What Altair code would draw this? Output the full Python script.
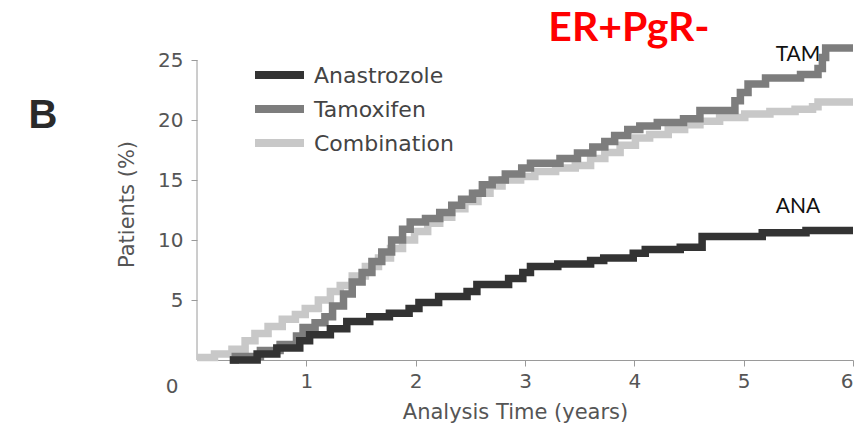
import altair as alt
import pandas as pd

# ---- data ----
series_names = ["Anastrozole", "Tamoxifen", "Combination"]
series_colors = ["#333333", "#7d7d7d", "#c8c8c8"]

ana_t = [0.30, 0.35, 0.55, 0.73, 0.94, 1.03, 1.22, 1.37, 1.58, 1.76, 1.94, 2.03, 2.21, 2.47, 2.56,
         2.85, 2.98, 3.05, 3.30, 3.60, 3.72, 3.99, 4.10, 4.42, 4.62, 5.17, 5.57, 6.00]
ana_v = [0.0, 0.0, 0.5, 1.0, 1.6, 2.1, 2.6, 3.2, 3.6, 3.9, 4.3, 4.8, 5.3, 5.7, 6.3,
         6.8, 7.3, 7.8, 8.0, 8.3, 8.5, 8.9, 9.2, 9.4, 10.3, 10.6, 10.8, 10.8]

tam_t = [0.30, 0.35, 0.58, 0.76, 0.91, 0.97, 1.08, 1.17, 1.24, 1.34, 1.42, 1.51, 1.60, 1.69, 1.78,
         1.88, 1.95, 2.09, 2.22, 2.33, 2.42, 2.52, 2.61, 2.70, 2.82, 2.97, 3.05, 3.32, 3.48, 3.62,
         3.73, 3.82, 3.94, 4.05, 4.21, 4.45, 4.60, 4.92, 4.97, 5.04, 5.20, 5.52, 5.68, 5.72, 5.75, 6.00]
tam_v = [0.0, 0.3, 0.8, 1.3, 2.0, 2.7, 3.1, 3.6, 4.5, 5.5, 6.5, 7.3, 8.2, 9.0, 10.0,
         10.9, 11.5, 11.8, 12.3, 12.9, 13.4, 13.9, 14.6, 15.0, 15.5, 16.0, 16.4, 16.8, 17.25, 17.75,
         18.2, 18.7, 19.2, 19.5, 19.8, 20.1, 20.8, 21.6, 22.3, 23.0, 23.5, 23.8, 24.3, 25.2, 26.0, 26.0]

com_t = [0.00, 0.16, 0.32, 0.44, 0.53, 0.65, 0.78, 0.90, 0.99, 1.11, 1.22, 1.31, 1.42, 1.54, 1.66,
         1.77, 1.88, 1.99, 2.11, 2.22, 2.33, 2.45, 2.57, 2.68, 2.79, 2.96, 3.09, 3.28, 3.46, 3.60,
         3.73, 3.87, 4.01, 4.14, 4.31, 4.46, 4.60, 4.78, 5.01, 5.24, 5.47, 5.63, 5.68, 6.00]
com_v = [0.2, 0.5, 0.9, 1.6, 2.2, 2.8, 3.4, 3.8, 4.3, 5.0, 5.7, 6.2, 7.0, 7.8, 8.5,
         9.3, 10.0, 10.7, 11.4, 11.9, 12.6, 13.2, 13.9, 14.5, 15.0, 15.3, 15.7, 16.0, 16.2, 16.8,
         17.3, 17.9, 18.5, 18.8, 19.2, 19.6, 19.9, 20.2, 20.5, 20.7, 20.9, 21.1, 21.5, 21.5]

x_ticks = [1, 2, 3, 4, 5, 6]
y_ticks = [5, 10, 15, 20, 25]

frames = []
for name, ts, vs in [("Anastrozole", ana_t, ana_v), ("Tamoxifen", tam_t, tam_v), ("Combination", com_t, com_v)]:
    frames.append(pd.DataFrame({"time": ts, "pct": vs, "arm": name}))
df = pd.concat(frames, ignore_index=True)

FONT = "DejaVu Sans"
AXIS_COLOR = "#9a9a9a"
TEXT_COLOR = "#555555"

xscale = alt.Scale(domain=[0, 6], nice=False, zero=True)
yscale = alt.Scale(domain=[0, 27], nice=False)
cscale = alt.Scale(domain=series_names, range=series_colors)

base = alt.Chart(df)

def arm_line(name):
    return base.transform_filter(alt.datum.arm == name).mark_line(
        interpolate="step-after", strokeWidth=7.5, strokeCap="butt"
    ).encode(
        x=alt.X("time:Q", scale=xscale,
                axis=alt.Axis(values=x_ticks, format="d", title="Analysis Time (years)", grid=False,
                              domainColor=AXIS_COLOR, tickColor=AXIS_COLOR, tickSize=6,
                              labelFont=FONT, labelFontSize=20, labelColor=TEXT_COLOR, labelPadding=5,
                              titleFont=FONT, titleFontSize=21, titleFontWeight="normal",
                              titleColor=TEXT_COLOR, titlePadding=10, titleX=318)),
        y=alt.Y("pct:Q", scale=yscale,
                axis=alt.Axis(values=y_ticks, title="Patients (%)", grid=False, domain=False,
                              tickColor=AXIS_COLOR, tickSize=6,
                              labelFont=FONT, labelFontSize=20, labelColor=TEXT_COLOR, labelPadding=8,
                              titleFont=FONT, titleFontSize=21, titleFontWeight="normal",
                              titleColor=TEXT_COLOR, titlePadding=20, titleY=168)),
        color=alt.Color("arm:N", scale=cscale, legend=None),
    )

lines = alt.layer(arm_line("Combination"), arm_line("Tamoxifen"), arm_line("Anastrozole"))

# y axis line from 0 to 25 only
yaxis_line = alt.Chart(pd.DataFrame({"x": [0], "y0": [0], "y1": [25]})).mark_rule(
    color=AXIS_COLOR, strokeWidth=1
).encode(x=alt.X("x:Q", scale=xscale), y=alt.Y("y0:Q", scale=yscale), y2="y1:Q")

zero_label = alt.Chart(pd.DataFrame({"x": [0], "y": [0], "t": ["0"]})).mark_text(
    font=FONT, fontSize=20, color=TEXT_COLOR, dx=-25, dy=27
).encode(x=alt.X("x:Q", scale=xscale), y=alt.Y("y:Q", scale=yscale), text="t:N")

# legend (drawn as swatches + labels)
legend_rows = [39, 73, 107]
leg_layers = []
for name, col, ry in zip(series_names, series_colors, legend_rows):
    d = pd.DataFrame({"arm": [name]})
    leg_layers.append(alt.Chart(d).mark_rule(color=col, strokeWidth=8).encode(
        x=alt.value(58), x2=alt.value(107), y=alt.value(ry)))
    leg_layers.append(alt.Chart(d).mark_text(
        font=FONT, fontSize=22, color="#444444", align="left", baseline="middle"
    ).encode(x=alt.value(117), y=alt.value(ry + 1), text="arm:N"))

tam_label = alt.Chart(pd.DataFrame({"t": ["TAM"]})).mark_text(
    font="Lato", fontSize=21, color="#111111", align="center", baseline="middle"
).encode(x=alt.value(601), y=alt.value(19), text="t:N")
ana_label = alt.Chart(pd.DataFrame({"t": ["ANA"]})).mark_text(
    font="Lato", fontSize=21, color="#111111", align="center", baseline="middle"
).encode(x=alt.value(601), y=alt.value(171), text="t:N")

b_label = alt.Chart(pd.DataFrame({"t": ["B"]})).mark_text(
    font="Liberation Sans", fontSize=40, fontWeight="bold", color="#2a2a2a", align="center", baseline="middle"
).encode(x=alt.value(-154), y=alt.value(80), text="t:N")

title_label = alt.Chart(pd.DataFrame({"t": ["ER+PgR-"]})).mark_text(
    font="Lato", fontSize=41, fontWeight="bold", color="#ff0000", align="center", baseline="middle"
).encode(x=alt.value(432), y=alt.value(-7), text="t:N")

chart = alt.layer(
    yaxis_line, lines, zero_label, *leg_layers, tam_label, ana_label, b_label, title_label
).properties(
    width=656, height=324,
    autosize=alt.AutoSizeParams(type="none"),
    padding={"left": 197, "top": 36, "right": 10, "bottom": 84},
    background="white",
).configure_view(stroke=None)

chart.save("out.html", embed_options={"renderer": "svg", "actions": False})
